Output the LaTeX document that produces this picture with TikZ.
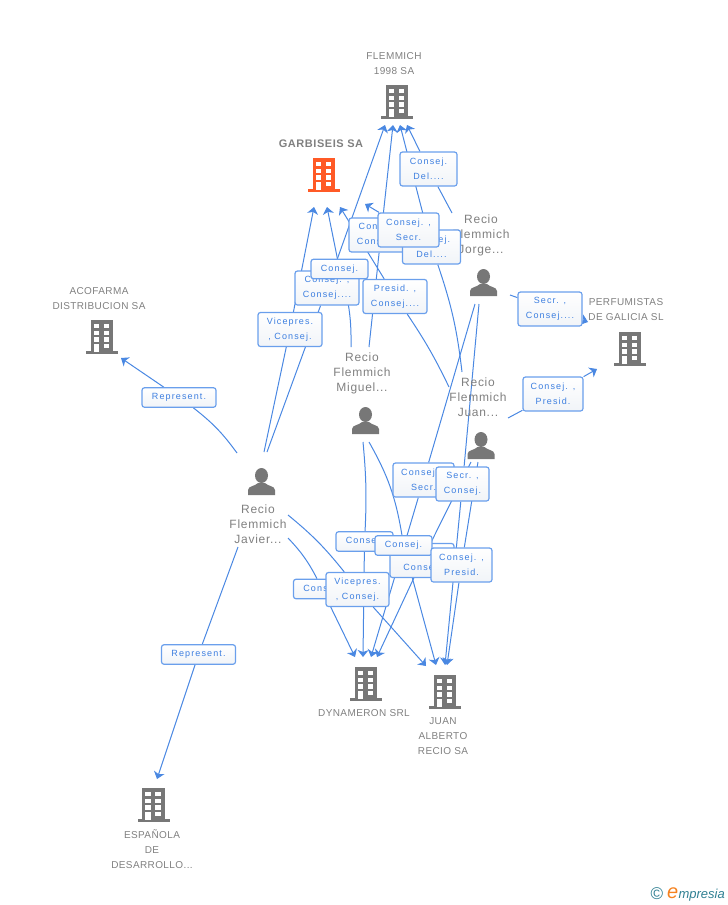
\documentclass[tikz,border=0pt]{standalone}
\usepackage{fontspec}
\usetikzlibrary{arrows.meta,backgrounds}
\setmainfont{Liberation Sans}
\newfontfamily\companyfont[LetterSpace=4]{Liberation Sans}
\newfontfamily\personfont[LetterSpace=6]{Liberation Sans}
\newfontfamily\titlefont[LetterSpace=5]{Liberation Sans Bold}
\newfontfamily\boxfont[LetterSpace=12.5]{Liberation Sans}
\definecolor{iconGray}{HTML}{777777}
\definecolor{iconOrange}{HTML}{FF5A26}
\definecolor{nameGray}{HTML}{808080}
\definecolor{linkBlue}{HTML}{4A88E2}
\definecolor{boxBlue}{HTML}{6A9FEC}
\definecolor{boxText}{HTML}{3D7FE0}
\definecolor{boxFill}{HTML}{F1F4F8}
\definecolor{logoTeal}{HTML}{2F7F92}
\definecolor{logoOrange}{HTML}{F58220}
\tikzset{
  building/.pic={
    \path[pic actions] (-11.2,0) rectangle (11.4,32);
    \path[pic actions] (-16,31) rectangle (16,34);
    \foreach \y in {4,10.7,17.3} {
      \fill[white] (-8.2,\y) rectangle ++(5.4,4.3);
      \fill[white] (1.9,\y) rectangle ++(5.4,4.3);
    }
    \fill[white] (-8.2,24) rectangle ++(5.4,8);
    \fill[white] (1.9,24) rectangle ++(5.4,4.3);
  },
  person/.pic={
    \fill[iconGray] (0,7.5) ellipse (6.5 and 7.5);
    \fill[iconGray] (-13.5,27) -- (-13.5,22) .. controls (-13.5,18) and (-6,18) .. (-3.5,15) -- (3.5,15)
      .. controls (6,18) and (13.5,18) .. (13.5,22) -- (13.5,27) -- cycle;
  },
  company/.style={font=\fontsize{10}{15}\selectfont\companyfont,text=nameGray,align=center},
  personname/.style={font=\fontsize{12}{15}\selectfont\personfont,text=nameGray,align=center},
  rolebox/.style={draw=boxBlue,line width=1.2pt,rounded corners=2.5pt,top color=white,bottom color=boxFill,
    inner sep=0pt,text=boxText,align=center,font=\fontsize{9}{15}\selectfont\boxfont},
  twoline/.style={rolebox,minimum width=#1,minimum height=34pt},
  oneline/.style={rolebox,minimum width=#1,minimum height=19.5pt},
  link/.style={draw=linkBlue,line width=1pt},
  arrowlink/.style={link,-{Stealth[length=7pt,width=11pt,inset=2pt]}}
}

\begin{document}
\begin{tikzpicture}[x=1pt,y=-1pt]
  \useasboundingbox (0,0) rectangle (728,905);

  % Companies
  \pic[fill=iconGray] at (397,85) {building};
  \pic[fill=iconOrange] at (324,158) {building};
  \pic[fill=iconGray] at (102,320) {building};
  \pic[fill=iconGray] at (630,332) {building};
  \pic[fill=iconGray] at (366,667) {building};
  \pic[fill=iconGray] at (445,675) {building};
  \pic[fill=iconGray] at (153.5,788) {building};
  \node[company] (flemmich) at (394,63.5) {FLEMMICH\\1998 SA};
  \node[font=\fontsize{11}{15}\selectfont\titlefont,text=nameGray] (garbiseis) at (321,143.5) {GARBISEIS SA};
  \node[company] (acofarma) at (99,298.5) {ACOFARMA\\DISTRIBUCION SA};
  \node[company] (perfumistas) at (626,309.5) {PERFUMISTAS\\DE GALICIA SL};
  \node[company] (dynameron) at (364,713) {DYNAMERON SRL};
  \node[company] (juanalberto) at (443,736) {JUAN\\ALBERTO\\RECIO SA};
  \node[company] (espanola) at (152,849) {ESPAÑOLA\\DE\\DESARROLLO...};

  % People
  \pic at (483.5,269) {person};
  \pic at (365.5,407) {person};
  \pic at (481,432) {person};
  \pic at (261.5,468) {person};
  \node[personname] (jorge) at (481,235) {Recio\\Flemmich\\Jorge...};
  \node[personname] (miguel) at (362,373) {Recio\\Flemmich\\Miguel...};
  \node[personname] (juan) at (478,397) {Recio\\Flemmich\\Juan...};
  \node[personname] (javier) at (258,524) {Recio\\Flemmich\\Javier...};

  % Role boxes
  \node[oneline=74pt] (repA) at (179,397.5) {Represent.};
  \node[oneline=74pt] (repB) at (198.5,654.5) {Represent.};
  \node[twoline=64pt] (vice) at (290,329.5) {Vicepres.\\, Consej.};
  \node[twoline=64pt] (consconsA) at (327,288) {Consej. ,\\Consej....};
  \node[oneline=57pt] (consA) at (339.5,269) {Consej.};
  \node[twoline=64pt] (presid) at (395,296.5) {Presid. ,\\Consej....};
  \node[twoline=64pt] (consconsB) at (381,235) {Consej. ,\\Consej....};
  \node[twoline=58pt] (delB) at (431.5,247) {Consej.\\Del....};
  \node[twoline=61pt] (secrA) at (408.5,230) {Consej. ,\\Secr.};
  \node[twoline=57pt] (delA) at (428.5,169) {Consej.\\Del....};
  \node[twoline=64pt] (perfA) at (550,309) {Secr. ,\\Consej....};
  \node[twoline=60pt] (perfB) at (553,394) {Consej. ,\\Presid.};
  \node[twoline=61pt] (secrB) at (423.5,480) {Consej. ,\\Secr.};
  \node[twoline=53pt] (secrC) at (462.5,484) {Secr. ,\\Consej.};
  \node[oneline=57pt] (consB) at (322,589) {Consej.};
  \node[twoline=63pt] (viceB) at (357.5,589.5) {Vicepres.\\, Consej.};
  \node[oneline=57pt] (consC) at (364.5,541.5) {Consej.};
  \node[twoline=64pt] (secrD) at (422,560.5) {Secr. ,\\Consej.};
  \node[oneline=57pt] (consD) at (403.5,545.5) {Consej.};
  \node[twoline=61pt] (presB) at (461.5,565) {Consej. ,\\Presid.};

  % Free ends of the links
  \coordinate (javA) at (264,452);
  \coordinate (javB) at (267,452);
  \coordinate (javC) at (288,515);
  \coordinate (javD) at (288,538);
  \coordinate (javE) at (237,453);
  \coordinate (javF) at (238,547);
  \coordinate (migA) at (351,347);
  \coordinate (migB) at (369,347);
  \coordinate (migC) at (363,442);
  \coordinate (migD) at (369,442);
  \coordinate (jorA) at (452,255);
  \coordinate (jorB) at (452,213);
  \coordinate (jorC) at (510,295);
  \coordinate (jorD) at (475,304);
  \coordinate (jorE) at (479,304);
  \coordinate (juaA) at (449,387);
  \coordinate (juaB) at (462,372);
  \coordinate (juaC) at (508,418);
  \coordinate (juaD) at (478,462);
  \coordinate (juaE) at (471,462);
  \coordinate (tipFlA) at (385,125);
  \coordinate (tipFlB) at (393,125);
  \coordinate (tipFlC) at (400,125);
  \coordinate (tipFlD) at (407,125);
  \coordinate (tipGaA) at (314,207);
  \coordinate (tipGaB) at (327,207);
  \coordinate (tipGaC) at (340,207);
  \coordinate (tipGaD) at (365,204);
  \coordinate (tipPeA) at (588,322);
  \coordinate (tipPeB) at (597,369);
  \coordinate (tipDyA) at (355,657);
  \coordinate (tipDyB) at (363,657);
  \coordinate (tipDyC) at (371,657);
  \coordinate (tipDyD) at (377,657);
  \coordinate (tipJaA) at (426,666);
  \coordinate (tipJaB) at (436,665);
  \coordinate (tipJaC) at (445,665);
  \coordinate (tipJaD) at (447,665);
  \coordinate (tipAc) at (121,358);
  \coordinate (tipEs) at (157,779);

  % Links, behind everything
  \begin{scope}[on background layer]
    \draw[link] (javA) -- (vice);
    \draw[arrowlink] (vice) -- (tipGaA);
    \draw[link] (javB) -- (consconsA);
    \draw[arrowlink] (consconsA) -- (tipFlA);
    \draw[link] (migA) to[bend right=8] (consA);
    \draw[arrowlink] (consA) -- (tipGaB);
    \draw[link] (migB) -- (consconsB);
    \draw[arrowlink] (consconsB) -- (tipFlB);
    \draw[link] (juaA) to[bend right=4] (presid);
    \draw[arrowlink] (presid) -- (tipGaC);
    \draw[link] (jorA) -- (secrA);
    \draw[arrowlink] (secrA) -- (tipGaD);
    \draw[link] (jorB) -- (delA);
    \draw[arrowlink] (delA) -- (tipFlD);
    \draw[link] (juaB) to[bend right=6] (delB);
    \draw[arrowlink] (delB) -- (tipFlC);
    \draw[link] (jorC) -- (perfA);
    \draw[arrowlink] (perfA) -- (tipPeA);
    \draw[link] (juaC) -- (perfB);
    \draw[arrowlink] (perfB) -- (tipPeB);
    \draw[link] (jorD) -- (secrB);
    \draw[arrowlink] (secrB) -- (tipDyC);
    \draw[link] (jorE) -- (secrC);
    \draw[arrowlink] (secrC) -- (tipJaC);
    \draw[link] (juaD) -- (presB);
    \draw[arrowlink] (presB) -- (tipJaD);
    \draw[link] (juaE) -- (secrD);
    \draw[arrowlink] (secrD) -- (tipDyD);
    \draw[link] (migC) to[bend left=4] (consC);
    \draw[arrowlink] (consC) -- (tipDyB);
    \draw[link] (migD) to[bend left=10] (consD);
    \draw[arrowlink] (consD) -- (tipJaB);
    \draw[link] (javC) to[bend left=6] (viceB);
    \draw[arrowlink] (viceB) -- (tipJaA);
    \draw[link] (javD) to[bend left=8] (consB);
    \draw[arrowlink] (consB) -- (tipDyA);
    \draw[link] (javE) to[bend right=8] (repA);
    \draw[arrowlink] (repA) -- (tipAc);
    \draw[link] (javF) -- (repB);
    \draw[arrowlink] (repB) -- (tipEs);
  \end{scope}

  % Logo
  \node[text=logoTeal,font=\fontsize{17}{17}\selectfont] (logoC) at (657,894) {©};
  \node[anchor=base east,text=logoTeal,inner sep=0pt,font=\fontsize{13}{13}\selectfont\itshape] (logoT) at (725,898)
    {mpresia};
  \node[anchor=base east,text=logoOrange,inner sep=0pt,font=\fontsize{20}{20}\selectfont\itshape] (logoE) at (logoT.base west) {e};
\end{tikzpicture}
\end{document}
